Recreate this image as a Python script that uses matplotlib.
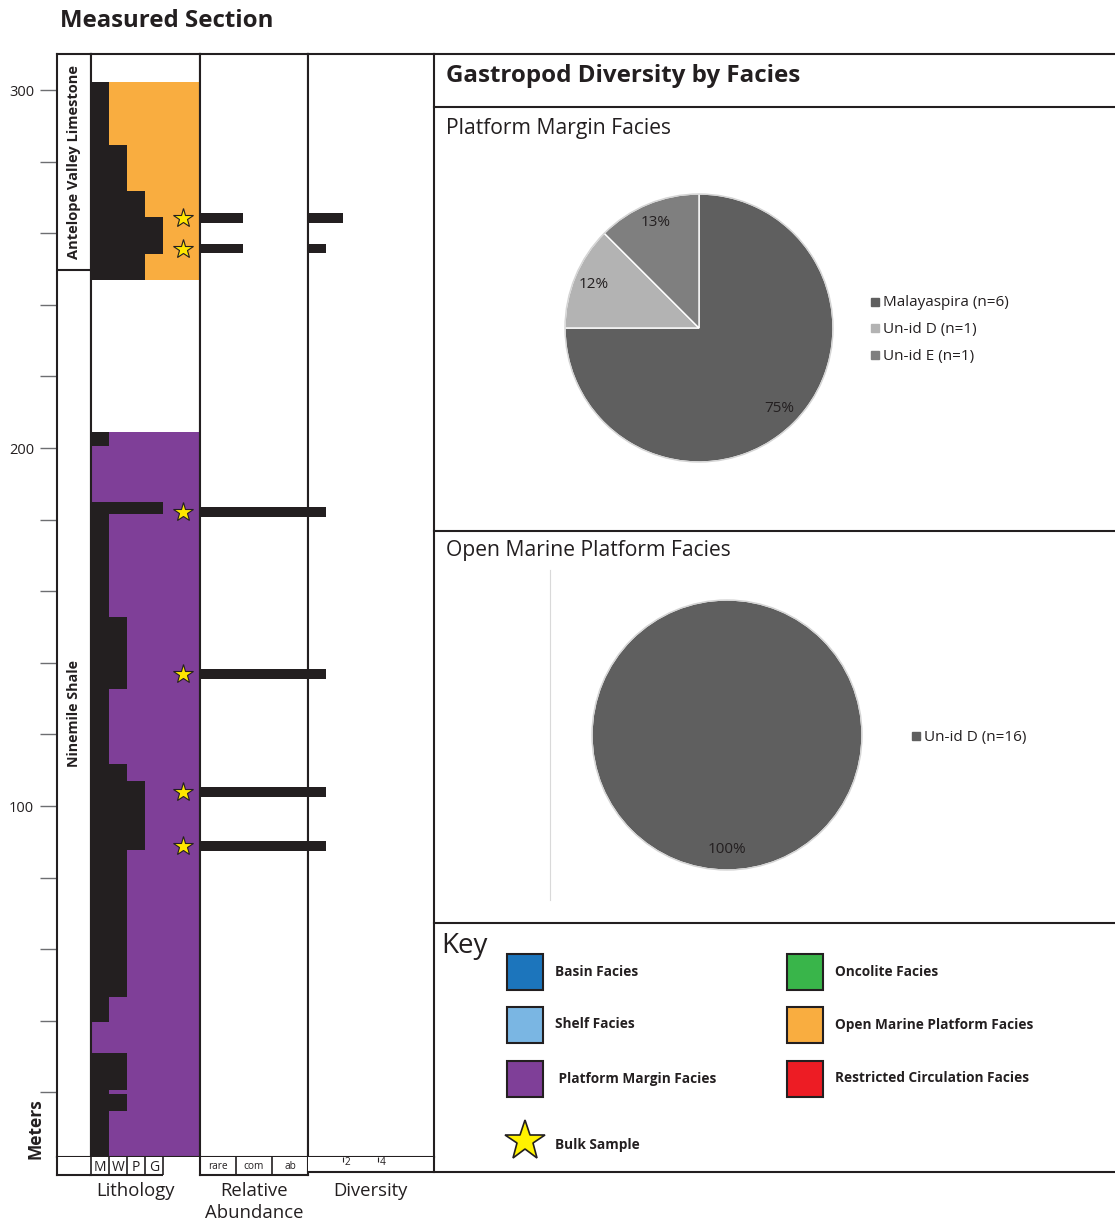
import numpy as np
import matplotlib
matplotlib.use("Agg")
import matplotlib.pyplot as plt
from matplotlib.patches import Rectangle, Circle
from matplotlib.lines import Line2D
from matplotlib.transforms import blended_transform_factory

plt.rcParams['font.family'] = ['Open Sans', 'DejaVu Sans']

# ---------------------------------------------------------------- data
# Lithology: bed boundaries (m, bottom -> top) and Dunham texture code
# (0 = no texture bar, 1 = mudstone, 2 = wackestone, 3 = packstone, 4 = grainstone)
antelope_bounds = [246.9, 254.3, 264.6, 271.8, 284.6, 302.3]
antelope_texture = [3, 4, 3, 2, 1]
ninemile_bounds = [2.0, 14.9, 19.6, 20.7, 31.0, 39.7, 46.6, 87.7, 107.0,
                   111.7, 132.8, 152.8, 181.6, 184.9, 200.6, 204.5]
ninemile_texture = [1, 2, 1, 2, 0, 1, 2, 3, 2, 1, 2, 1, 4, 0, 1]

# facies intervals (base m, top m, facies name)
facies_intervals = [(246.9, 302.3, 'Open Marine Platform Facies'),
                    (2.0, 204.5, 'Platform Margin Facies')]

formations = ['Antelope Valley Limestone', 'Ninemile Shale']
formation_contact = 249.7

# bulk samples
sample_heights = [264.2, 255.7, 182.1, 136.9, 103.9, 88.8]
relative_abundance = [1.2, 1.2, 3.0, 3.0, 3.0, 3.0]   # 1 rare, 2 common, 3 abundant
diversity = [2, 1, 1, 1, 1, 1]

texture_labels = ['M', 'W', 'P', 'G']
abundance_labels = ['rare', 'com', 'ab']
diversity_ticks = [2, 4]

# gastropod counts per facies
pm_taxa = ['Malayaspira', 'Un-id D', 'Un-id E']
pm_counts = [6, 1, 1]
pm_pct_labels = ['75%', '12%', '13%']
pm_colors = ['#5f5f5f', '#b3b3b3', '#7f7f7f']

om_taxa = ['Un-id D']
om_counts = [16]
om_pct_labels = ['100%']
om_colors = ['#5f5f5f']

# key
key_names = ['Basin Facies', 'Shelf Facies', ' Platform Margin Facies',
             'Oncolite Facies', 'Open Marine Platform Facies',
             'Restricted Circulation Facies']
key_colors = ['#1c75bc', '#7ab6e3', '#7f3f98', '#39b54a', '#f9ad40', '#ed1c24']
facies_color = {'Open Marine Platform Facies': '#f9ad40',
                'Platform Margin Facies': '#7f3f98'}

# ---------------------------------------------------------------- layout
W, H, DPI = 1115, 1224, 100
INK = '#231f20'
STAR = '#ffe600'
LW = 1.5
M_BOT, M_TOP = 1.96, 310.06

fig = plt.figure(figsize=(W / DPI, H / DPI), dpi=DPI)
fig.patch.set_facecolor('white')


def fx(x):
    return x / W


def fy(y):
    return 1 - y / H


def add_ax(x0, y0, x1, y1):
    return fig.add_axes([x0 / W, 1 - y1 / H, (x1 - x0) / W, (y1 - y0) / H])


def pline(x0, y0, x1, y1, lw=LW, color=INK):
    fig.add_artist(Line2D([fx(x0), fx(x1)], [fy(y0), fy(y1)], lw=lw,
                          color=color, transform=fig.transFigure,
                          solid_capstyle='projecting'))


def ftext(x, y, s, **kw):
    kw.setdefault('color', INK)
    kw.setdefault('va', 'center')
    fig.text(fx(x), fy(y), s, **kw)


def column_axes(x0, x1):
    ax = add_ax(x0, 54, x1, 1157)
    ax.set_ylim(M_BOT, M_TOP)
    ax.set_xticks([])
    ax.set_yticks([])
    for sp in ax.spines.values():
        sp.set_color(INK)
        sp.set_linewidth(LW)
    return ax


# ---------------------------------------------------------------- strat column
ax_f = column_axes(57, 91)
ax_l = column_axes(91, 200)
ax_r = column_axes(200, 308)
ax_d = column_axes(308, 434)

# formations
ax_f.set_xlim(0, 1)
ax_f.axhline(formation_contact, color=INK, lw=LW)
tf = blended_transform_factory(ax_f.transAxes, ax_f.transData)
ax_f.text(0.5, (formation_contact + M_TOP) / 2, formations[0], rotation=90,
          ha='center', va='center', fontsize=10.5, fontweight='bold',
          color=INK, transform=tf)
ax_f.text(0.5, (formation_contact + M_BOT) / 2, formations[1], rotation=90,
          ha='center', va='center', fontsize=10.3, fontweight='bold',
          color=INK, transform=tf)
meter_ticks = np.arange(20, 301, 20)
ax_f.set_yticks(meter_ticks)
ax_f.set_yticklabels([str(t) if t % 100 == 0 else '' for t in meter_ticks])
ax_f.tick_params(axis='y', direction='out', length=12.5, width=1,
                 color='#6d6e71', labelsize=10.5, labelcolor=INK, pad=4)

# lithology
ax_l.set_xlim(0, 109 / 18)
for base, top, name in facies_intervals:
    ax_l.axhspan(base, top, color=facies_color[name], lw=0, zorder=1)
for bounds, tex in ((antelope_bounds, antelope_texture),
                    (ninemile_bounds, ninemile_texture)):
    ax_l.fill_betweenx(bounds, 0, list(tex) + [tex[-1]], step='post',
                       color=INK, lw=0, zorder=2)
ax_l.plot(np.full(len(sample_heights), 5.11), sample_heights, ls='none',
          marker='*', ms=15, mfc=STAR, mec=INK, mew=0.8, zorder=4)

# relative abundance and diversity
bar_h = 2.65
ax_r.set_xlim(0, 3)
ax_r.barh(sample_heights, relative_abundance, height=bar_h, color=INK, lw=0)
ax_d.set_xlim(0, 126 / 17.6)
ax_d.barh(sample_heights, diversity, height=bar_h, color=INK, lw=0)

# bottom scale strips
ax_fs = add_ax(57, 1157, 91, 1175)
ax_ls = add_ax(91, 1157, 200, 1175)
ax_rs = add_ax(200, 1157, 308, 1175)
ax_ds = add_ax(308, 1157, 434, 1172)
for ax in (ax_fs, ax_ls, ax_rs, ax_ds):
    ax.set_xticks([])
    ax.set_yticks([])
    ax.set_ylim(0, 1)
    for sp in ax.spines.values():
        sp.set_visible(False)
        sp.set_color(INK)
        sp.set_linewidth(LW)
ax_fs.spines['left'].set_visible(True)
ax_fs.spines['bottom'].set_visible(True)

ax_ls.set_xlim(ax_l.get_xlim())
ax_ls.vlines(np.arange(len(texture_labels) + 1), 0, 1, color=INK, lw=1.2,
             clip_on=False)
ax_ls.hlines(0, -0.1, len(texture_labels), color=INK, lw=LW, clip_on=False)
for i, lab in enumerate(texture_labels):
    ax_ls.text(i + 0.5, 0.42, lab, ha='center', va='center', fontsize=10,
               color=INK)

ax_rs.set_xlim(0, 3)
for s in ('left', 'right', 'bottom'):
    ax_rs.spines[s].set_visible(True)
ax_rs.vlines([1, 2], 0, 1, color=INK, lw=1.2)
for i, lab in enumerate(abundance_labels):
    ax_rs.text(i + 0.5, 0.45, lab, ha='center', va='center', fontsize=7.3,
               color=INK)

ax_ds.set_xlim(ax_d.get_xlim())
ax_ds.vlines(diversity_ticks, 0.7, 1, color=INK, lw=0.8)
for t in diversity_ticks:
    ax_ds.text(t + 0.08, 0.62, str(t), ha='left', va='center', fontsize=7.3,
               color=INK)

ftext(136, 1191, 'Lithology', ha='center', fontsize=13.3)
ftext(254, 1202, 'Relative\nAbundance', ha='center', fontsize=13.3,
      linespacing=1.25)
ftext(370, 1191, 'Diversity', ha='center', fontsize=13.3)
ftext(35, 1129, 'Meters', rotation=90, ha='center', fontsize=12.5,
      fontweight='bold')
ftext(60, 21, 'Measured Section', fontsize=17.3, fontweight='bold')

# ---------------------------------------------------------------- right panel frame
pline(434, 54, 1115, 54)
pline(434, 1157, 434, 1172)
pline(308, 1172, 1115, 1172)
for yy in (107, 531, 923):
    pline(434, yy, 1115, yy)

ftext(446, 76, 'Gastropod Diversity by Facies', fontsize=17.4,
      fontweight='bold')
ftext(446, 128.5, 'Platform Margin Facies', fontsize=15.2)
ftext(446, 550.5, 'Open Marine Platform Facies', fontsize=15.2)
pline(550, 570, 550, 900, lw=0.8, color='#d9d9d9')


def draw_pie(cx, cy, r, counts, colors, pct_labels):
    pad = 1.03
    ax = add_ax(cx - r * pad, cy - r * pad, cx + r * pad, cy + r * pad)
    wedges, _ = ax.pie(counts, colors=colors, startangle=90,
                       counterclock=False,
                       wedgeprops=dict(edgecolor='white', linewidth=1.0))
    ax.add_patch(Circle((0, 0), 1.0, fill=False, ec='#d4d4d4', lw=1.0))
    ax.set_xlim(-pad, pad)
    ax.set_ylim(-pad, pad)
    ax.set_aspect('equal')
    ax.axis('off')
    for w, lab in zip(wedges, pct_labels):
        ang = np.deg2rad((w.theta1 + w.theta2) / 2)
        ax.text(0.85 * np.cos(ang), 0.85 * np.sin(ang), lab, ha='center',
                va='center', fontsize=11, color=INK)
    return ax


def draw_legend(x, y0, dy, taxa, counts, colors):
    for i, (t, n, c) in enumerate(zip(taxa, counts, colors)):
        yy = y0 + i * dy
        fig.add_artist(Line2D([fx(x)], [fy(yy)], marker='s', ms=5.5, color=c,
                              ls='none', transform=fig.transFigure))
        ftext(x + 8, yy + 1, f'{t} (n={n})', fontsize=11)


draw_pie(699, 328, 134, pm_counts, pm_colors, pm_pct_labels)
draw_legend(875, 302, 26.5, pm_taxa, pm_counts, pm_colors)
draw_pie(727, 735, 135, om_counts, om_colors, om_pct_labels)
draw_legend(916, 736, 26.5, om_taxa, om_counts, om_colors)

# ---------------------------------------------------------------- key
ftext(441, 946, 'Key', fontsize=20)
col_x = [507, 787]
row_y = [954, 1007, 1061]
for i, (name, color) in enumerate(zip(key_names, key_colors)):
    x0 = col_x[i // 3]
    y0 = row_y[i % 3]
    fig.add_artist(Rectangle((fx(x0), fy(y0 + 36)), 36 / W, 36 / H,
                             facecolor=color, edgecolor=INK, lw=1.5,
                             transform=fig.transFigure))
    ftext(x0 + 48, y0 + 17.5, name, fontsize=9.8, fontweight='bold')
fig.add_artist(Line2D([fx(525)], [fy(1141)], marker='*', ms=30, mfc='#fff200',
                      mec=INK, mew=1.2, ls='none', transform=fig.transFigure))
ftext(555, 1144.5, 'Bulk Sample', fontsize=9.8, fontweight='bold')

fig.savefig('out.png', dpi=DPI, facecolor='white')
